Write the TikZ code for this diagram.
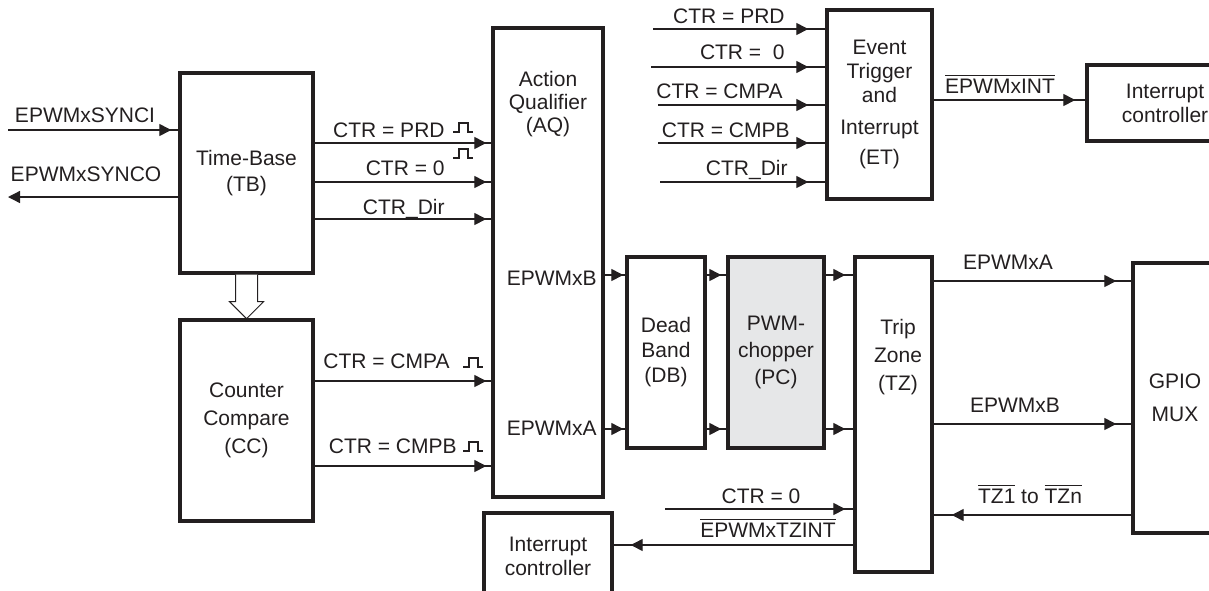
\documentclass[tikz,border=0pt]{standalone}
\usepackage{fontspec}
\setmainfont{Liberation Sans}
\usetikzlibrary{arrows.meta,decorations.markings}
\definecolor{ink}{RGB}{35,31,32}
\definecolor{chopfill}{RGB}{230,231,232}

\tikzset{
  box/.style={draw=ink, line width=1.7pt, inner sep=0pt, align=center, text=ink,
              font=\fontsize{10.5}{13}\selectfont},
  lbl/.style={inner sep=0pt, text=ink, font=\fontsize{10.5}{12}\selectfont},
  sig/.style={draw=ink, line width=0.65pt},
  tipat/.style={postaction={decorate}, decoration={markings,
      mark=at position -#1 with {\arrow{Triangle[length=6pt,width=6pt]}}}},
  endtip/.style={-{Triangle[length=6pt,width=6pt]}},
  pulse/.pic={\draw[ink, line width=0.55pt] (0,0) -- (6,0) -- (6,-9) -- (15,-9) -- (15,0) -- (20,0);}
}

\begin{document}
\begin{tikzpicture}[x=0.5pt, y=-0.5pt]
  \useasboundingbox (0,0) rectangle (1209,590);
  \clip (0,0) rectangle (1209,590);

  % blocks
  \node[box, minimum width=66.5pt, minimum height=100pt] (tb) at (246.5,173) {Time-Base\\(TB)};
  \node[box, minimum width=66.5pt, minimum height=100.5pt, font=\fontsize{10.5}{14}\selectfont] (cc) at (246.5,420.5) {Counter\\Compare\\(CC)};
  \node[box, minimum width=55pt, minimum height=234.5pt] (aq) at (548,262.5) {};
  \node[lbl, align=center, font=\fontsize{10.5}{11.5}\selectfont] (aqtxt) at (548,104) {Action\\Qualifier\\(AQ)};
  \node[box, minimum width=52.5pt, minimum height=94.5pt, font=\fontsize{10.5}{12}\selectfont] (et) at (879.5,104.5) {Event\\Trigger\\and\\[4pt]Interrupt\\[3pt](ET)};
  \node[box, minimum width=78pt, minimum height=38pt, font=\fontsize{10.5}{12}\selectfont] (ic1) at (1165,103) {Interrupt\\controller};
  \node[box, minimum width=39pt, minimum height=95.5pt, font=\fontsize{10.5}{12.5}\selectfont] (db) at (666,352.5) {Dead\\Band\\(DB)};
  \node[box, fill=chopfill, minimum width=48pt, minimum height=95.5pt, font=\fontsize{10.5}{13.5}\selectfont] (pc) at (776,352.5) {PWM-\\chopper\\(PC)};
  \node[box, minimum width=38.5pt, minimum height=157.5pt] (tz) at (893.5,414.5) {};
  \node[lbl, align=center, font=\fontsize{10.5}{14}\selectfont] (tztxt) at (898,357) {Trip\\Zone\\(TZ)};
  \node[box, minimum width=42pt, minimum height=135pt, font=\fontsize{10.5}{16.5}\selectfont] (gpio) at (1175,398) {GPIO\\MUX};
  \node[box, minimum width=64pt, minimum height=43.5pt, font=\fontsize{10.5}{12}\selectfont] (ic2) at (548,556.5) {Interrupt\\controller};

  % time-base to counter-compare
  \draw[ink, line width=0.5pt, fill=white] (tb.south) ++(-11,0) -- ++(0,27) -- ++(-6,0) -- ++(17,17)
    -- ++(17,-17) -- ++(-6,0) -- ++(0,-27);

  % sync
  \coordinate (syncin) at (8,130);
  \coordinate (syncout) at (8,197);
  \draw[sig, tipat=3.5pt] (syncin) -- (syncin -| tb.west);
  \draw[sig, endtip] (syncout -| tb.west) -- (syncout);
  \node[lbl] (lsyncin) at (85,115) {EPWMxSYNCI};
  \node[lbl] (lsyncout) at (86,174) {EPWMxSYNCO};

  % TB and CC to AQ
  \foreach \y in {143,182,219}
    \draw[sig, tipat=2.5pt] (tb.east |- 0,\y) -- (aq.west |- 0,\y);
  \foreach \y in {381,466}
    \draw[sig, tipat=2.5pt] (cc.east |- 0,\y) -- (aq.west |- 0,\y);
  \node[lbl, anchor=base east] (lprd) at (445,137) {CTR = PRD};
  \node[lbl, anchor=base east] (lzero) at (445,175) {CTR = 0};
  \node[lbl, anchor=base east] (ldir) at (445,214) {CTR\_Dir};
  \node[lbl, anchor=base east] (lcmpa) at (450,368) {CTR = CMPA};
  \node[lbl, anchor=base east] (lcmpb) at (457,453) {CTR = CMPB};
  \pic at (453,132) {pulse};
  \pic at (453,158) {pulse};
  \pic at (463,367) {pulse};
  \pic at (463,451) {pulse};

  % AQ -> DB -> PC -> TZ
  \node[lbl, anchor=base east] (aqb) at (597,285) {EPWMxB};
  \node[lbl, anchor=base east] (aqa) at (597,435) {EPWMxA};
  \foreach \y in {275,429} {
    \draw[sig, tipat=1pt] (aq.east |- 0,\y) -- (db.west |- 0,\y);
    \draw[sig, tipat=2.5pt] (db.east |- 0,\y) -- (pc.west |- 0,\y);
    \draw[sig, tipat=4pt] (pc.east |- 0,\y) -- (tz.west |- 0,\y);
  }

  % event trigger
  \foreach \y/\x in {29/653, 67/651, 105/658, 143/658, 182/660}
    \draw[sig, tipat=8.5pt] (\x,\y) -- (et.west |- 0,\y);
  \node[lbl, anchor=base east] (eprd) at (785,23) {CTR = PRD};
  \node[lbl, anchor=base east] (ezero) at (785,59) {CTR =\ \ 0};
  \node[lbl, anchor=base east] (ecmpa) at (783,98) {CTR = CMPA};
  \node[lbl, anchor=base east] (ecmpb) at (790,137) {CTR = CMPB};
  \node[lbl, anchor=base east] (edir) at (788,175) {CTR\_Dir};
  \draw[sig, tipat=5pt] (et.east |- 0,100) -- (ic1.west |- 0,100);
  \node[lbl, anchor=base] (lint) at (1000,93) {$\overline{\mbox{EPWMxINT}}$};

  % trip zone
  \foreach \y in {281,424}
    \draw[sig, tipat=7.5pt] (tz.east |- 0,\y) -- (gpio.west |- 0,\y);
  \node[lbl, anchor=base] (tza) at (1008,269) {EPWMxA};
  \node[lbl, anchor=base] (tzb) at (1015,412) {EPWMxB};
  \draw[sig, tipat=9pt] (gpio.west |- 0,515) -- (tz.east |- 0,515);
  \node[lbl, anchor=base] (ltzn) at (1030,503) {$\overline{\mbox{TZ1}}$ to $\overline{\mbox{TZn}}$};
  \coordinate (tzzero) at (665,509);
  \draw[sig, tipat=4pt] (tzzero) -- (tzzero -| tz.west);
  \node[lbl, anchor=base] (ltzzero) at (761,503) {CTR = 0};
  \draw[sig, tipat=8.5pt] (tz.west |- 0,545) -- (ic2.east |- 0,545);
  \node[lbl, anchor=base] (ltzint) at (768,537) {$\overline{\mbox{EPWMxTZINT}}$};
\end{tikzpicture}
\end{document}
